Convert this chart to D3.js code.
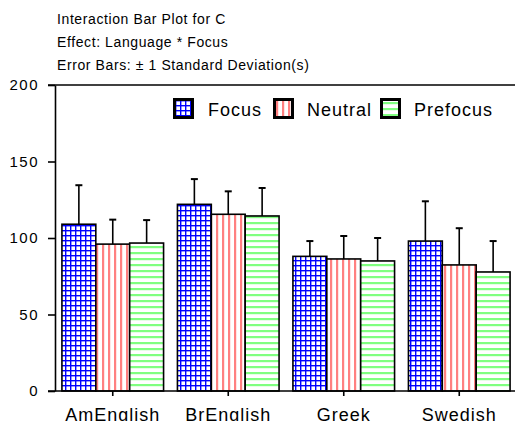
<!DOCTYPE html>
<html><head><meta charset="utf-8">
<script src="https://cdn.jsdelivr.net/npm/d3@7"></script>
<style>
html,body{margin:0;padding:0;background:#fff;}
svg{display:block;font-family:"Liberation Sans",Arial,sans-serif;}
</style></head>
<body>
<svg id="chart" width="515" height="421"></svg>
<script>
const titleLines = ["Interaction Bar Plot for C", "Effect: Language * Focus", "Error Bars: \u00b1 1 Standard Deviation(s)"];
const categories = ["AmEnglish", "BrEnglish", "Greek", "Swedish"];
const seriesNames = ["Focus", "Neutral", "Prefocus"];
const focusMeans = [109, 122, 88, 98];
const focusSD = [25.5, 16.5, 10, 26];
const neutralMeans = [96, 115.5, 86.3, 82.4];
const neutralSD = [16, 15, 15, 24];
const prefocusMeans = [96.7, 114.4, 85, 77.8];
const prefocusSD = [15, 18.3, 15, 20.2];
const yTicks = [0, 50, 100, 150, 200];

const means = [focusMeans, neutralMeans, prefocusMeans];
const sds = [focusSD, neutralSD, prefocusSD];
const data = [];
categories.forEach((c, i) => seriesNames.forEach((s, j) => data.push({cat: c, ser: s, mean: means[j][i], sd: sds[j][i], idx: j})));

const svg = d3.select("#chart");
const defs = svg.append("defs");
// Focus: blue grid
const p1 = defs.append("pattern").attr("id","pat0").attr("patternUnits","userSpaceOnUse").attr("width",5).attr("height",5);
p1.append("rect").attr("width",5).attr("height",5).attr("fill","#fff");
p1.append("rect").attr("x",0).attr("y",0).attr("width",1.4).attr("height",5).attr("fill","#0000ff");
p1.append("rect").attr("x",0).attr("y",0).attr("width",5).attr("height",1.4).attr("fill","#0000ff");
// Neutral: red vertical stripes
const p2 = defs.append("pattern").attr("id","pat1").attr("patternUnits","userSpaceOnUse").attr("width",6).attr("height",6);
p2.append("rect").attr("width",6).attr("height",6).attr("fill","#fff");
p2.append("rect").attr("x",0).attr("y",0).attr("width",2.2).attr("height",6).attr("fill","#ff8080");
// Prefocus: green horizontal stripes
const p3 = defs.append("pattern").attr("id","pat2").attr("patternUnits","userSpaceOnUse").attr("width",6).attr("height",6);
p3.append("rect").attr("width",6).attr("height",6).attr("fill","#fff");
p3.append("rect").attr("x",0).attr("y",0).attr("width",6).attr("height",2.2).attr("fill","#80ff80");

const x0 = d3.scaleBand().domain(categories).range([55, 517]).paddingInner(0.12).paddingOuter(0.06);
const x1 = d3.scaleBand().domain(seriesNames).range([0, x0.bandwidth()]);
const y = d3.scaleLinear().domain([0, 200]).range([391, 85]);

// titles
svg.append("g").selectAll("text").data(titleLines).join("text")
  .attr("x", 57).attr("y", (d,i) => 24 + i*23)
  .attr("font-size", 14).attr("letter-spacing", 0.6).attr("fill","#000").text(d => d);

// bars
svg.append("g").selectAll("rect").data(data).join("rect")
  .attr("x", d => x0(d.cat) + x1(d.ser))
  .attr("y", d => y(d.mean))
  .attr("width", x1.bandwidth())
  .attr("height", d => y(0) - y(d.mean))
  .attr("fill", d => `url(#pat${d.idx})`)
  .attr("stroke","#000").attr("stroke-width",1.6);

// error bars
const eb = svg.append("g").attr("stroke","#000").attr("stroke-width",1.6);
data.forEach(d => {
  const cx = x0(d.cat) + x1(d.ser) + x1.bandwidth()/2;
  eb.append("line").attr("x1",cx).attr("x2",cx).attr("y1",y(d.mean)).attr("y2",y(d.mean+d.sd));
  eb.append("line").attr("x1",cx-3.5).attr("x2",cx+3.5).attr("y1",y(d.mean+d.sd)).attr("y2",y(d.mean+d.sd)).attr("stroke-width",2);
});

// y axis
const yAxis = d3.axisLeft(y).tickValues(yTicks).tickSize(7).tickSizeOuter(0).tickPadding(9);
const gy = svg.append("g").attr("transform","translate(55,0)").call(yAxis);
gy.select(".domain").attr("stroke-width",1.6);
gy.selectAll(".tick line").attr("stroke-width",1.6);
gy.selectAll("text").attr("font-size",15).attr("letter-spacing",1.5).attr("font-family","Liberation Sans, Arial, sans-serif");

// top frame line
svg.append("line").attr("x1",48).attr("x2",515).attr("y1",y(200)).attr("y2",y(200)).attr("stroke","#000").attr("stroke-width",1.6);

// x axis
const xAxis = d3.axisBottom(x0).tickSize(5).tickSizeOuter(0).tickPadding(12);
const gx = svg.append("g").attr("transform",`translate(0,${y(0)})`).call(xAxis);
gx.select(".domain").attr("d", `M48,0H515`).attr("stroke-width",1.6);
gx.selectAll(".tick line").attr("stroke-width",1.6);
gx.selectAll("text").attr("font-size",18).attr("letter-spacing",1).attr("font-family","Liberation Sans, Arial, sans-serif");

// legend
const legX = [173, 273, 380];
const legTX = [208, 307, 414];
const lg = svg.append("g");
seriesNames.forEach((s, i) => {
  lg.append("rect").attr("x", legX[i]+1.5).attr("y", 99.5).attr("width", 18).attr("height", 18)
    .attr("fill", `url(#pat${i})`).attr("stroke","#000").attr("stroke-width",3);
  lg.append("text").attr("x", legTX[i]).attr("y", 116).attr("font-size",18).attr("letter-spacing",1).text(s);
});
</script>
</body></html>
